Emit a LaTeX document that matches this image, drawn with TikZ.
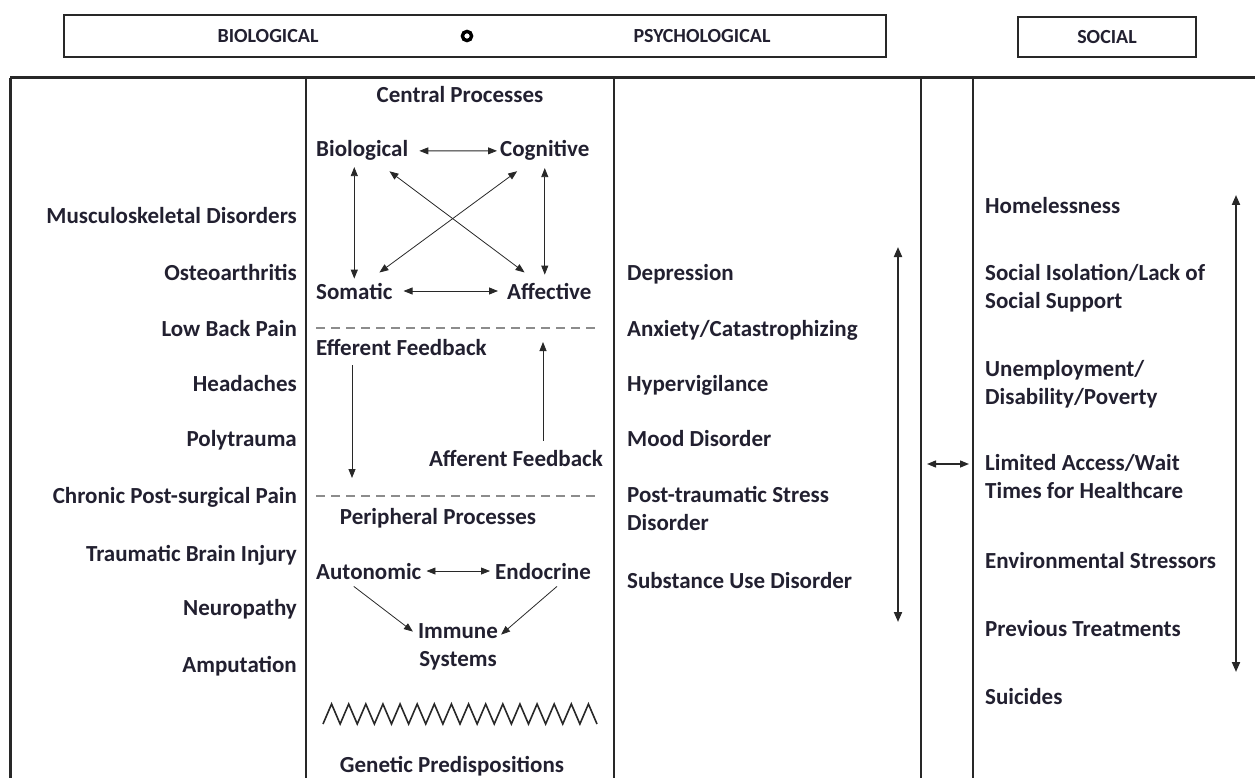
\documentclass[tikz,border=0pt]{standalone}
\usepackage{fontspec}
\setmainfont{Carlito}
\usetikzlibrary{arrows.meta}
\definecolor{txt}{RGB}{34,32,48}
\definecolor{dashgray}{RGB}{140,140,140}
\definecolor{linec}{RGB}{40,40,40}
\begin{document}
\begin{tikzpicture}[x=1pt,y=-1pt,
  lbl/.style={font=\fontsize{23}{27.5}\selectfont\bfseries, text=txt, inner sep=3pt},
  hdr/.style={font=\fontsize{20}{22}\selectfont\bfseries, text=txt, inner sep=0pt},
  dar/.style={{Triangle[length=9pt,width=7pt]}-{Triangle[length=9pt,width=7pt]}, line width=0.8pt, draw=linec},
  sar/.style={-{Triangle[length=9pt,width=7pt]}, line width=0.8pt, draw=linec},
  bigdar/.style={{Triangle[length=10pt,width=8pt]}-{Triangle[length=10pt,width=8pt]}, line width=2pt, draw=linec},
  dashline/.style={draw=dashgray, line width=1.6pt, dash pattern=on 9pt off 6pt},
  frame/.style={draw=linec}
]
\useasboundingbox (0,0) rectangle (1255,778);

% header
\draw[draw=linec, line width=1.8pt] (64,15) rectangle (886,57);
\node[hdr] (hbio) at (268,36) {BIOLOGICAL};
\draw[draw=black, line width=3.4pt] (467,36) circle (4.6);
\node[hdr] (hpsy) at (702,36) {PSYCHOLOGICAL};
\draw[draw=linec, line width=1.8pt] (1018,17) rectangle (1196,57);
\node[hdr] (hsoc) at (1107,37) {SOCIAL};

% frame
\draw[frame, line width=3pt] (10,78) -- (1255,78);
\draw[frame, line width=3pt] (10,78) -- (10,778);
\draw[frame, line width=2.4pt] (306,78) -- (306,778);
\draw[frame, line width=2pt] (614,78) -- (614,778);
\draw[frame, line width=1.2pt] (921,78) -- (921,778);
\draw[frame, line width=1.5pt] (973,78) -- (973,778);

% column 1
\foreach \t/\y in {Musculoskeletal Disorders/223, Osteoarthritis/280, Low Back Pain/336, Headaches/391, Polytrauma/446, Chronic Post-surgical Pain/503, Traumatic Brain Injury/561, Neuropathy/615, Amputation/672}
  \node[lbl, anchor=base east] (c1-\y) at (300,\y) {\t};

% column 2
\node[lbl, anchor=base] (central) at (460,103) {Central Processes};
\node[lbl, anchor=base west] (bio) at (313,157) {Biological};
\node[lbl, anchor=base west] (cog) at (497,157) {Cognitive};
\node[lbl, anchor=base west] (som) at (313,299) {Somatic};
\node[lbl, anchor=base west] (aff) at (504,299) {Affective};
\draw[dar, shorten <=8pt] (bio) -- (cog);
\draw[dar, shorten <=8pt, shorten >=6pt] (som) -- (aff);
\draw[dar, shorten <=3pt, shorten >=1pt] (som.north |- bio.south) -- (som.north);
\draw[dar, shorten <=4pt, shorten >=5pt] (cog.south) -- (cog.south |- aff.north);
\draw[dar, shorten <=12pt, shorten >=12pt] (bio) -- (aff);
\draw[dar, shorten <=12pt, shorten >=12pt] (cog) -- (som);

\draw[dashline] (316,328) -- (596,328);
\node[lbl, anchor=base west] (eff) at (313,355) {Efferent Feedback};
\node[lbl, anchor=base east] (afb) at (606,466) {Afferent Feedback};
\coordinate (effend) at (352,478);
\coordinate (afbend) at (543,342);
\draw[sar, shorten <=7pt] (eff.south -| effend) -- (effend);
\draw[sar, shorten <=6pt] (afb.north -| afbend) -- (afbend);
\draw[dashline] (316,496) -- (596,496);

\node[lbl, anchor=base] (periph) at (438,524) {Peripheral Processes};
\node[lbl, anchor=base west] (auto) at (313,579) {Autonomic};
\node[lbl, anchor=base west] (endo) at (492,579) {Endocrine};
\node[lbl, anchor=base, align=center] (imm) at (458,666) {Immune\\Systems};
\draw[dar, shorten <=2pt, shorten >=2pt] (auto) -- (endo);
\draw[sar] ([xshift=-15pt,yshift=-4pt]auto.south) -- ([xshift=-2pt,yshift=15pt]imm.west);
\draw[sar] ([xshift=14pt,yshift=-4pt]endo.south) -- ([xshift=0pt,yshift=12pt]imm.east);

\draw[line width=1.6pt, draw=linec, line join=miter]
  (323,724) \foreach \i in {1,...,32} { -- ({323+\i*274/32}, {ifthenelse(mod(\i,2)==1,704,724)}) };
\node[lbl, anchor=base] (genetic) at (452,772) {Genetic Predispositions};

% column 3
\foreach \t/\y in {Depression/280, {Anxiety/Catastrophizing}/336, Hypervigilance/391, Mood Disorder/446, Substance Use Disorder/588}
  \node[lbl, anchor=base west] (c3-\y) at (624,\y) {\t};
\node[lbl, anchor=base west, align=left] (ptsd) at (624,530) {Post-traumatic Stress\\Disorder};
\coordinate (psytop) at (898,247);
\coordinate (psybot) at (898,622);
\draw[bigdar] (psytop) -- (psybot);

% middle arrow
\coordinate (midl) at (927,464);
\coordinate (midr) at (969,464);
\draw[dar, line width=1.4pt] (midl) -- (midr);

% column 5
\node[lbl, anchor=base west] (home) at (982,214) {Homelessness};
\node[lbl, anchor=base west, align=left] (iso) at (982,308) {Social Isolation/Lack of\\Social Support};
\node[lbl, anchor=base west, align=left] (unemp) at (982,404) {Unemployment/\\Disability/Poverty};
\node[lbl, anchor=base west, align=left] (access) at (982,498) {Limited Access/Wait\\Times for Healthcare};
\node[lbl, anchor=base west] (env) at (982,568) {Environmental Stressors};
\node[lbl, anchor=base west] (prev) at (982,636) {Previous Treatments};
\node[lbl, anchor=base west] (suic) at (982,704) {Suicides};
\coordinate (soctop) at (1236,195);
\coordinate (socbot) at (1236,672);
\draw[bigdar] (soctop) -- (socbot);
\end{tikzpicture}
\end{document}
